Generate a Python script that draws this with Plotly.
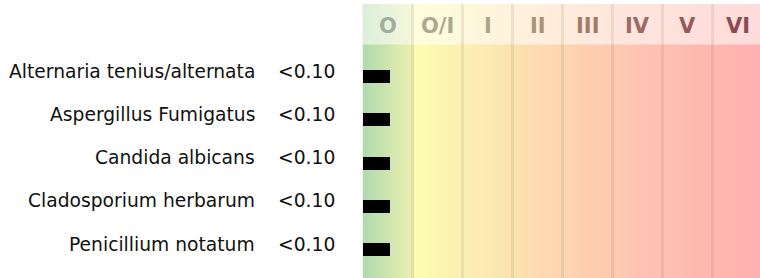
import numpy as np
import plotly.graph_objects as go

# ---- data ----
allergens = ["Alternaria tenius/alternata", "Aspergillus Fumigatus", "Candida albicans",
             "Cladosporium herbarum", "Penicillium notatum"]
value_text = ["<0.10", "<0.10", "<0.10", "<0.10", "<0.10"]
bar_class = [0.53, 0.53, 0.53, 0.53, 0.53]   # bar length on the class scale
class_labels = ["O", "O/I", "I", "II", "III", "IV", "V", "VI"]
class_label_colors = ["#a3ad9f", "#aaab8e", "#b0a284", "#a9917a", "#a27a6c",
                      "#9b6a64", "#955a5a", "#8e4a52"]
grad_pos = [0, 0.95, 1.05, 2, 3, 4, 5, 6, 7, 8]
grad_rgb = [(176, 218, 176), (232, 238, 174), (253, 252, 178), (251, 240, 178),
            (252, 226, 176), (253, 213, 176), (254, 201, 177), (255, 191, 177),
            (255, 183, 176), (255, 176, 176)]

W, H = 760, 278
x0_px, col_px = 362.5, 50.0
row0_px, row_px = 76.5, 43.3
header_top_px, header_bot_px = 4, 44.5

def ypx(p):
    return (p - row0_px) / row_px

xmax = (W - x0_px) / col_px
ncls = len(class_labels)

fig = go.Figure()

# gradient background
xe = np.linspace(0, ncls, 401)
xc = (xe[:-1] + xe[1:]) / 2
cs = [[p / ncls, "rgb(%d,%d,%d)" % c] for p, c in zip(grad_pos, grad_rgb)]
for ya, yb in [(ypx(header_top_px), ypx(header_bot_px)), (ypx(header_bot_px), ypx(H))]:
    fig.add_trace(go.Heatmap(x=xe, y=[ya, yb], z=[xc], colorscale=cs, zmin=0, zmax=ncls,
                             showscale=False, hoverinfo="skip"))

# bars
rows = list(range(len(allergens)))
fig.add_trace(go.Bar(x=bar_class, y=rows, orientation="h", width=0.3,
                     marker=dict(color="black", line=dict(width=0)), hoverinfo="skip"))

shapes = [dict(type="rect", xref="x", yref="y", x0=0, x1=ncls,
               y0=ypx(header_top_px), y1=ypx(header_bot_px),
               fillcolor="rgba(255,255,255,0.55)", line=dict(width=0), layer="above")]
for i in range(1, ncls):
    shapes.append(dict(type="line", xref="x", yref="y", x0=i, x1=i,
                       y0=ypx(header_top_px), y1=ypx(H),
                       line=dict(color="rgba(140,110,80,0.13)", width=3), layer="above"))

ann = []
for i, lab in enumerate(class_labels):
    ann.append(dict(x=i + 0.5, y=ypx(25.5), xref="x", yref="y", text="<b>" + lab + "</b>",
                    showarrow=False,
                    font=dict(family="DejaVu Sans", size=21, color=class_label_colors[i]),
                    xanchor="center", yanchor="middle"))
for i, (name, vt) in enumerate(zip(allergens, value_text)):
    yy = i - 5.5 / row_px
    ann.append(dict(x=257 / W, y=yy, xref="paper", yref="y", text=name, showarrow=False,
                    font=dict(family="DejaVu Sans", size=18.7, color="#111"),
                    xanchor="right", yanchor="middle"))
    ann.append(dict(x=337 / W, y=yy, xref="paper", yref="y", text=vt, showarrow=False,
                    font=dict(family="DejaVu Sans", size=18.7, color="#111"),
                    xanchor="right", yanchor="middle"))

fig.update_layout(
    width=W, height=H, margin=dict(l=0, r=0, t=0, b=0),
    paper_bgcolor="white", plot_bgcolor="white", showlegend=False,
    xaxis=dict(domain=[x0_px / W, 1], range=[0, xmax], visible=False, fixedrange=True),
    yaxis=dict(range=[ypx(H), ypx(0)], visible=False, fixedrange=True),
    shapes=shapes, annotations=ann, bargap=0,
)
fig.write_html("out.html", config={"displayModeBar": False},
               post_script="document.body.style.margin='0';document.body.style.overflow='hidden';")
